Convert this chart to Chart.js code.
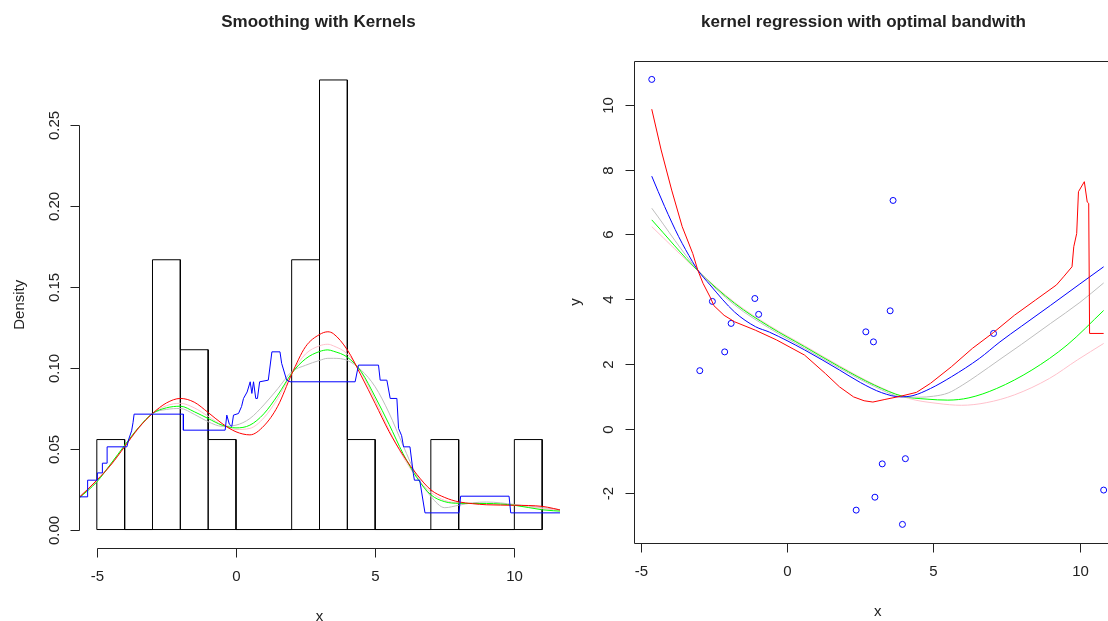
<!DOCTYPE html>
<html>
<head>
<meta charset="utf-8">
<script src="https://cdn.jsdelivr.net/npm/chart.js@4.4.1/dist/chart.umd.min.js"></script>
<style>
  html, body { margin: 0; padding: 0; overflow: hidden; background: #fff; }
  body { width: 1108px; height: 621px; position: relative; }
  canvas { position: absolute; top: 0; }
  #left { left: 0; }
  #right { left: 562px; }
</style>
</head>
<body>
<canvas id="left" width="562" height="621"></canvas>
<canvas id="right" width="570" height="621"></canvas>
<script>

// ---- left panel: histogram + kernel density estimates ----
const binEdges = [-5, -4, -3, -2, -1, 0, 1, 2, 3, 4, 5, 6, 7, 8, 9, 10, 11];
const binDensity = [0.0556, 0, 0.1667, 0.1111, 0.0556, 0, 0, 0.1667, 0.2778, 0.0556, 0, 0, 0.0556, 0, 0, 0.0556];

const densX    = [-5.65, -5.0, -4.5, -4.0, -3.5, -3.0, -2.5, -2.0, -1.5, -1.0, -0.5, 0, 0.5, 1.0, 1.5, 2.0, 2.5, 3.0, 3.3, 3.5, 4.0, 4.5, 5.0, 5.5, 6.0, 6.5, 7.0, 7.5, 8.0, 8.5, 9.0, 10.0, 11.0, 11.8];
const densRed  = [0.0195, 0.0305, 0.0398, 0.0512, 0.0628, 0.0717, 0.0782, 0.0810, 0.0787, 0.0723, 0.0655, 0.0604, 0.0585, 0.0640, 0.0762, 0.0960, 0.1130, 0.1205, 0.1222, 0.1210, 0.1110, 0.0950, 0.0779, 0.0605, 0.0460, 0.0340, 0.0245, 0.0198, 0.0171, 0.0160, 0.0153, 0.0150, 0.0143, 0.0115];
const densGreen = [0.0192, 0.0294, 0.0405, 0.0521, 0.0630, 0.0717, 0.0752, 0.0762, 0.0728, 0.0686, 0.0645, 0.0628, 0.0645, 0.0715, 0.0830, 0.0965, 0.1055, 0.1100, 0.1110, 0.1102, 0.1065, 0.0975, 0.0820, 0.0650, 0.0470, 0.0320, 0.0215, 0.0172, 0.0162, 0.0161, 0.0161, 0.0150, 0.0122, 0.0112];
const densGray = [0.0200, 0.0300, 0.0405, 0.0515, 0.0625, 0.0717, 0.0742, 0.0748, 0.0712, 0.0666, 0.0638, 0.0645, 0.0686, 0.0770, 0.0870, 0.0975, 0.1015, 0.1045, 0.1058, 0.1058, 0.1045, 0.0985, 0.0882, 0.0720, 0.0520, 0.0330, 0.0205, 0.0135, 0.0150, 0.0165, 0.0170, 0.0155, 0.0135, 0.0120];
const densPink = [0.0195, 0.0300, 0.0400, 0.0515, 0.0628, 0.0717, 0.0765, 0.0780, 0.0752, 0.0700, 0.0645, 0.0618, 0.0625, 0.0690, 0.0810, 0.0965, 0.1085, 0.1135, 0.1145, 0.1135, 0.1085, 0.0970, 0.0800, 0.0615, 0.0450, 0.0320, 0.0230, 0.0180, 0.0165, 0.0160, 0.0158, 0.0150, 0.0130, 0.0115];

// rectangular kernel estimate (step shaped)
const rectX = [-5.65, -5.33, -5.33, -4.98, -4.98, -4.8, -4.8, -4.63, -4.63, -3.92, -3.85, -3.75, -3.7, -3.66, -1.89, -1.89, -0.39, -0.33, -0.24, -0.15, -0.09, 0.09, 0.2, 0.27, 0.4, 0.51, 0.57, 0.63, 0.71, 0.77, 0.85, 1.16, 1.29, 1.58, 1.64, 1.82, 1.94, 4.28, 4.4, 5.12, 5.18, 5.42, 5.54, 5.78, 5.84, 5.95, 6.02, 6.25, 6.37, 6.41, 6.6, 6.79, 8.01, 8.07, 9.81, 9.87, 11.8];
const rectY = [0.0202, 0.0202, 0.0305, 0.0305, 0.0350, 0.0350, 0.0410, 0.0410, 0.0511, 0.0511, 0.0560, 0.0610, 0.0660, 0.0713, 0.0713, 0.0614, 0.0614, 0.0707, 0.0651, 0.0637, 0.0707, 0.0717, 0.0760, 0.0810, 0.0850, 0.0913, 0.0841, 0.0913, 0.0810, 0.0810, 0.0913, 0.0923, 0.1098, 0.1098, 0.1027, 0.0923, 0.0913, 0.0913, 0.1016, 0.1016, 0.0923, 0.0923, 0.0810, 0.0810, 0.0625, 0.0580, 0.0511, 0.0511, 0.0346, 0.0305, 0.0305, 0.0103, 0.0103, 0.0206, 0.0206, 0.0103, 0.0103];

const densTicks = [0, 0.05, 0.1, 0.15, 0.2, 0.25];
const leftXTicks = [-5, 0, 5, 10];

// ---- right panel: data points + kernel regression fits ----
const ptsX = [-4.62, -2.98, -2.55, -2.13, -1.91, -1.1, -0.97, 2.36, 2.69, 2.95, 3.0, 3.25, 3.52, 3.62, 3.94, 4.04, 7.05, 10.81];
const ptsY = [10.79, 1.79, 3.93, 2.37, 3.25, 4.02, 3.53, -2.52, 2.99, 2.68, -2.12, -1.09, 3.64, 7.05, -2.96, -0.93, 2.94, -1.9];

const regRedX = [-4.62, -4.3, -3.94, -3.58, -3.22, -3.05, -2.87, -2.63, -2.5, -2.15, -1.79, -1.08, -0.36, 0.6, 1.31, 1.79, 2.27, 2.63, 2.93, 3.34, 3.88, 4.42, 4.9, 5.61, 6.33, 7.05, 7.76, 8.48, 9.2, 9.44, 9.73, 9.79, 9.89, 9.95, 10.15, 10.25, 10.3, 10.33, 10.81];
const regRedY = [9.87, 8.61, 7.37, 6.24, 5.41, 4.9, 4.49, 4.07, 3.8, 3.5, 3.3, 3.04, 2.74, 2.27, 1.7, 1.29, 0.98, 0.86, 0.82, 0.9, 1.0, 1.12, 1.4, 1.91, 2.48, 2.97, 3.5, 3.97, 4.44, 4.69, 5.0, 5.62, 6.03, 7.32, 7.63, 7.0, 6.96, 2.94, 2.94];

const regBlueX = [-4.62, -4.18, -3.7, -3.23, -3.05, -2.63, -1.79, -1.08, -0.6, 0.6, 1.79, 2.51, 3.23, 3.88, 4.3, 4.9, 5.61, 6.57, 7.27, 8.0, 9.0, 10.0, 10.81];
const regBlueY = [7.8, 6.86, 5.93, 5.16, 4.9, 4.44, 3.6, 3.15, 2.98, 2.43, 1.81, 1.42, 1.11, 0.98, 1.02, 1.24, 1.6, 2.17, 2.68, 3.16, 3.81, 4.47, 5.0];

const regGrayX = [-4.62, -3.05, -1.79, -0.6, 0.6, 1.79, 2.99, 3.94, 4.5, 5.0, 5.5, 6.0, 6.5, 7.27, 8.0, 9.0, 10.0, 10.81];
const regGrayY = [6.81, 4.9, 3.82, 3.1, 2.48, 1.87, 1.3, 0.98, 0.97, 1.0, 1.1, 1.35, 1.65, 2.14, 2.6, 3.25, 3.9, 4.5];

const regGreenX = [-4.62, -3.05, -1.79, -0.6, 0.6, 1.79, 2.99, 3.94, 4.78, 5.49, 6.21, 7.16, 8.36, 9.56, 10.81];
const regGreenY = [6.45, 4.88, 3.87, 3.15, 2.53, 1.91, 1.34, 1.0, 0.91, 0.88, 0.95, 1.24, 1.81, 2.58, 3.65];

const regPinkX = [-4.62, -3.05, -1.79, -0.6, 0.6, 1.79, 2.99, 4.16, 5.12, 5.96, 6.8, 7.76, 8.96, 9.91, 10.81];
const regPinkY = [6.24, 4.88, 3.9, 3.18, 2.56, 1.94, 1.36, 0.93, 0.78, 0.72, 0.8, 1.04, 1.55, 2.12, 2.63];

const rightXTicks = [-5, 0, 5, 10];
const rightYTicks = [-2, 0, 2, 4, 6, 8, 10];

const FONT = '"Liberation Sans", Arial, sans-serif';

function pts(xs, ys) {
  return xs.map((x, i) => ({ x: x, y: ys[i] }));
}

function curve(xs, ys, color, smooth) {
  return {
    data: pts(xs, ys),
    showLine: true,
    borderColor: color,
    borderWidth: 1,
    pointRadius: 0,
    cubicInterpolationMode: smooth ? 'monotone' : 'default',
    tension: 0
  };
}

// histogram outline, one path around every bin (like R's rect per bin)
function histOutline() {
  const out = [];
  for (let i = 0; i < binDensity.length; i++) {
    out.push({ x: binEdges[i], y: 0 });
    out.push({ x: binEdges[i], y: binDensity[i] });
    out.push({ x: binEdges[i + 1], y: binDensity[i] });
    out.push({ x: binEdges[i + 1], y: 0 });
  }
  return out;
}

// R style axes, labels and titles
function rFrame(cfg) {
  return {
    id: 'rFrame',
    afterDraw(chart) {
      const ctx = chart.ctx;
      const a = chart.chartArea;
      const xs = chart.scales.x, ys = chart.scales.y;
      const bottom = Math.round(a.bottom) + 0.5;
      const left = Math.round(a.left) + 0.5;
      const xp = cfg.xTicks.map(v => Math.round(xs.getPixelForValue(v)) + 0.5);
      const yp = cfg.yTicks.map(v => Math.round(ys.getPixelForValue(v)) + 0.5);

      ctx.save();
      ctx.strokeStyle = '#222';
      ctx.fillStyle = '#222';
      ctx.lineWidth = 1;
      ctx.beginPath();
      if (cfg.box) {
        ctx.rect(left, Math.round(a.top) + 0.5, Math.round(a.right) - Math.round(a.left), Math.round(a.bottom) - Math.round(a.top));
      } else {
        ctx.moveTo(xp[0], bottom); ctx.lineTo(xp[xp.length - 1], bottom);
        ctx.moveTo(left, yp[0]); ctx.lineTo(left, yp[yp.length - 1]);
      }
      xp.forEach(p => { ctx.moveTo(p, bottom); ctx.lineTo(p, bottom + 9); });
      yp.forEach(p => { ctx.moveTo(left, p); ctx.lineTo(left - 9, p); });
      ctx.stroke();

      ctx.font = '15px ' + FONT;
      ctx.textAlign = 'center';
      ctx.textBaseline = 'middle';
      cfg.xTicks.forEach((v, i) => ctx.fillText(cfg.xFmt(v), xp[i], a.bottom + 29.5));
      cfg.yTicks.forEach((v, i) => {
        ctx.save();
        ctx.translate(a.left - 24.5, yp[i]);
        ctx.rotate(-Math.PI / 2);
        ctx.fillText(cfg.yFmt(v), 0, 0);
        ctx.restore();
      });
      ctx.fillText(cfg.xTitle, (a.left + a.right) / 2, a.bottom + 69);
      ctx.save();
      ctx.translate(cfg.yTitleX, (a.top + a.bottom) / 2);
      ctx.rotate(-Math.PI / 2);
      ctx.fillText(cfg.yTitle, 0, 0);
      ctx.restore();

      ctx.font = 'bold 17px ' + FONT;
      ctx.fillText(cfg.title, cfg.titleX, 22);
      ctx.restore();
    }
  };
}

const baseOpts = {
  responsive: false,
  animation: false,
  events: [],
  plugins: { legend: { display: false }, tooltip: { enabled: false } }
};

new Chart(document.getElementById('left'), {
  type: 'scatter',
  data: {
    datasets: [
      curve(rectX, rectY, '#0000FF', false),
      curve(densX, densRed, '#FF0000', true),
      curve(densX, densGreen, '#00FF00', true),
      curve(densX, densPink, '#FFC0CB', true),
      curve(densX, densGray, '#BEBEBE', true),
      { data: histOutline(), showLine: true, borderColor: '#000', borderWidth: 1, pointRadius: 0, tension: 0 },
      { data: pts([binEdges[0], binEdges[binEdges.length - 1]], [0, 0]), showLine: true, borderColor: '#000', borderWidth: 1, pointRadius: 0 }
    ]
  },
  options: Object.assign({}, baseOpts, {
    layout: { padding: { left: 79, right: 2, top: 62, bottom: 73.5 } },
    scales: {
      x: { type: 'linear', min: -5.64, max: 11.64, display: false },
      y: { type: 'linear', min: -0.0111, max: 0.2889, display: false }
    }
  }),
  plugins: [rFrame({
    box: false,
    xTicks: leftXTicks, yTicks: densTicks,
    xFmt: v => String(v), yFmt: v => v.toFixed(2),
    xTitle: 'x', yTitle: 'Density', yTitleX: 19.5,
    title: 'Smoothing with Kernels', titleX: 318.5
  })]
});

new Chart(document.getElementById('right'), {
  type: 'scatter',
  data: {
    datasets: [
      curve(regRedX, regRedY, '#FF0000', false),
      curve(regBlueX, regBlueY, '#0000FF', true),
      curve(regGrayX, regGrayY, '#BEBEBE', true),
      curve(regGreenX, regGreenY, '#00FF00', true),
      curve(regPinkX, regPinkY, '#FFC0CB', true),
      {
        data: pts(ptsX, ptsY),
        pointStyle: 'circle',
        pointRadius: 3,
        borderColor: '#0000FF',
        backgroundColor: 'rgba(0,0,0,0)',
        borderWidth: 1
      }
    ]
  },
  options: Object.assign({}, baseOpts, {
    layout: { padding: { left: 71.6, right: 10.2, top: 61.3, bottom: 78.5 } },
    scales: {
      x: { type: 'linear', min: -5.24, max: 11.43, display: false },
      y: { type: 'linear', min: -3.52, max: 11.35, display: false }
    }
  }),
  plugins: [rFrame({
    box: true,
    xTicks: rightXTicks, yTicks: rightYTicks,
    xFmt: v => String(v), yFmt: v => String(v),
    xTitle: 'x', yTitle: 'y', yTitleX: 14,
    title: 'kernel regression with optimal bandwith', titleX: 301.5
  })]
});
</script>
</body>
</html>
